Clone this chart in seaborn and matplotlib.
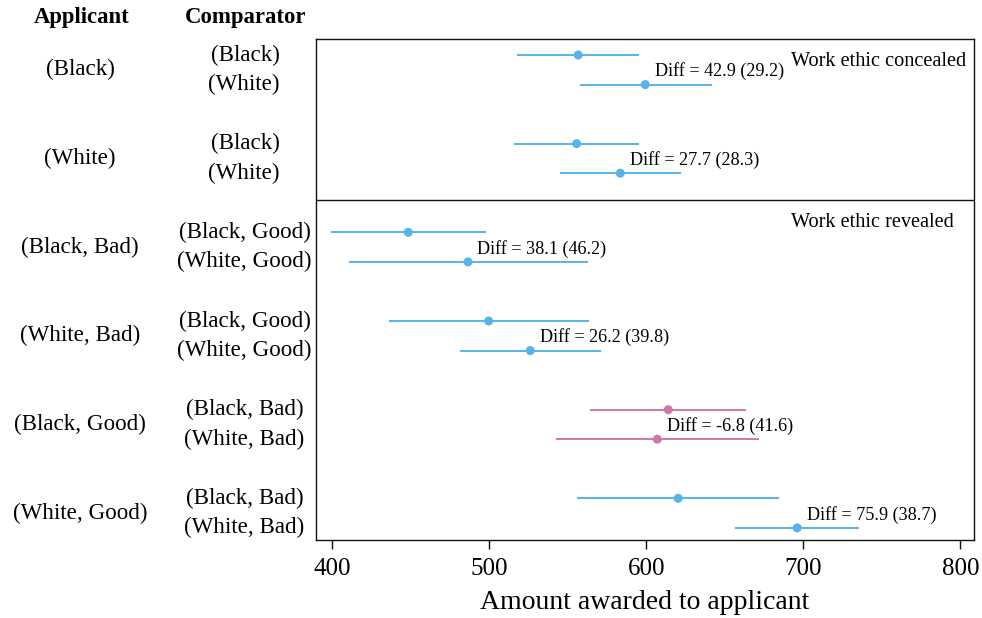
import numpy as np
import pandas as pd
import matplotlib
matplotlib.use("Agg")
import matplotlib.pyplot as plt
import matplotlib.transforms as mtransforms
import seaborn as sns

# ---------------- data ----------------
applicants = ["(Black)", "(White)", "(Black, Bad)", "(White, Bad)", "(Black, Good)", "(White, Good)"]
comparators = ["(Black)", "(White)", "(Black)", "(White)",
               "(Black, Good)", "(White, Good)", "(Black, Good)", "(White, Good)",
               "(Black, Bad)", "(White, Bad)", "(Black, Bad)", "(White, Bad)"]
estimate = [556.6, 599.3, 555.6, 583.4, 448.4, 486.4, 499.6, 526.1, 614.0, 607.0, 620.3, 696.1]
ci_low = [517.8, 557.7, 515.7, 545.0, 399.1, 410.8, 435.9, 481.3, 564.1, 542.4, 555.6, 656.6]
ci_high = [595.5, 641.6, 595.5, 621.9, 497.9, 562.6, 563.7, 571.1, 663.5, 671.5, 684.7, 735.6]
diff_est = [42.9, 27.7, 38.1, 26.2, -6.8, 75.9]
diff_se = [29.2, 28.3, 46.2, 39.8, 41.6, 38.7]
panel_labels = ["Work ethic concealed", "Work ethic revealed"]
x_ticks = [400, 500, 600, 700, 800]
x_label = "Amount awarded to applicant"

BLUE = "#56B4E9"
PINK = "#CC79A7"

sns.set_theme(style="white")
plt.rcParams["font.family"] = ["Liberation Serif", "DejaVu Serif"]
plt.rcParams["text.color"] = "black"
plt.rcParams["axes.labelcolor"] = "black"
plt.rcParams["xtick.color"] = "black"
plt.rcParams["xtick.labelcolor"] = "black"

rows = []
for i, comp in enumerate(comparators):
    pair = i // 2
    rows.append(dict(pair=pair, pos=3 * pair + (i % 2), comp=comp,
                     est=estimate[i], lo=ci_low[i], hi=ci_high[i],
                     sign="neg" if diff_est[pair] < 0 else "pos"))
df = pd.DataFrame(rows)
pal = {"pos": BLUE, "neg": PINK}

W, H = 982, 618
fig = plt.figure(figsize=(W / 100, H / 100), dpi=100)
ax = fig.add_axes([316 / W, (H - 540) / H, (974 - 316) / W, (540 - 39) / H])

ax.hlines(df["pos"], df["lo"], df["hi"], colors=[pal[s] for s in df["sign"]], lw=1.4, zorder=2)
sns.scatterplot(data=df, x="est", y="pos", hue="sign", palette=pal, s=42,
                linewidth=0, legend=False, ax=ax, zorder=3)

ax.set_xlim(389.6, 808.7)
ax.set_ylim(16.41, -0.541)
ax.set_xticks(x_ticks)
ax.set_xticklabels([str(t) for t in x_ticks], fontsize=18)
ax.tick_params(axis="x", direction="out", length=6.5, width=1.0, color="#111111", pad=6.5,
               bottom=True)
ax.set_yticks([])
ax.set_ylabel("")
ax.set_xlabel(x_label, fontsize=20, labelpad=7.5)
for sp in ax.spines.values():
    sp.set_visible(True)
    sp.set_color("#111111")
    sp.set_linewidth(1.0)

# divider between panels
ax.axhline(4.905, color="#111111", lw=1.0)

# panel labels
blend = mtransforms.blended_transform_factory(ax.transAxes, ax.transData)
ax.text(0.722, 0.23, panel_labels[0], transform=blend, fontsize=14.6, ha="left", va="center")
ax.text(0.722, (223 - 55) / 29.56, panel_labels[1], transform=blend, fontsize=14.6,
        ha="left", va="center")

# diff annotations
for p in range(len(diff_est)):
    x2 = df.loc[2 * p + 1, "est"]
    ax.text(x2 + 6, 3 * p + 0.55, f"Diff = {diff_est[p]:.1f} ({diff_se[p]:.1f})",
            fontsize=13.1, ha="left", va="center")

# left labels
fig_x = mtransforms.blended_transform_factory(fig.transFigure, ax.transData)
for p, app in enumerate(applicants):
    ax.text(80 / W, 3 * p + 0.5, app, transform=fig_x, fontsize=16.6,
            ha="center", va="center", clip_on=False)

renderer = fig.canvas.get_renderer()
for p in range(len(applicants)):
    texts = []
    for k in range(2):
        t = ax.text(0, 3 * p + k, comparators[2 * p + k], transform=fig_x, fontsize=16.6,
                    ha="right", va="center", clip_on=False)
        texts.append(t)
    widths = [t.get_window_extent(renderer).width for t in texts]
    right = 244 + max(widths) / 2
    for t in texts:
        t.set_x(right / W)

fig.text(82 / W, 1 - 18 / H, "Applicant", fontsize=16.4, fontweight="bold", ha="center", va="center")
fig.text(246 / W, 1 - 18 / H, "Comparator", fontsize=16.4, fontweight="bold", ha="center", va="center")

fig.savefig("out.png", dpi=100)
